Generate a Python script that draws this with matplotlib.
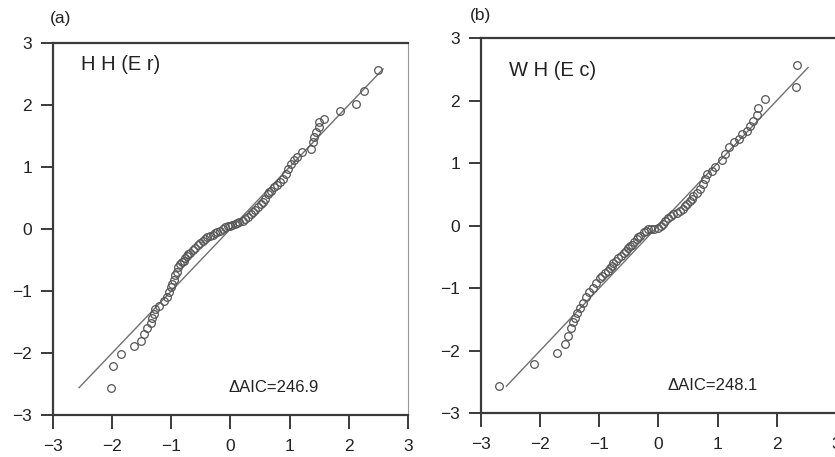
import matplotlib
matplotlib.use('Agg')
import matplotlib.pyplot as plt

plt.rcParams['font.family'] = ['Liberation Sans', 'DejaVu Sans']

# panel (a): theoretical vs sample quantiles
qa_x = [2.50, 2.25, 2.12, 1.86, 1.58, 1.50, 1.49, 1.44, 1.41, 1.39, 1.37,
        1.21, 1.13, 1.08, 1.02, 0.98, 0.94, 0.88, 0.83, 0.78, 0.74, 0.69,
        0.66, 0.63, 0.58, 0.55, 0.52, 0.46, 0.42, 0.38, 0.34, 0.30, 0.25,
        0.21, 0.15, 0.11, 0.07, 0.03, -0.01, -0.05, -0.09, -0.13, -0.18,
        -0.22, -0.26, -0.30, -0.35, -0.39, -0.43, -0.47, -0.51, -0.55,
        -0.60, -0.64, -0.68, -0.71, -0.74, -0.77, -0.79, -0.82, -0.85,
        -0.88, -0.91, -0.93, -0.96, -0.99, -1.01, -1.04, -1.07, -1.13,
        -1.21, -1.27, -1.30, -1.32, -1.35, -1.41, -1.46, -1.52, -1.63,
        -1.85, -1.99, -2.02]
qa_y = [2.57, 2.22, 2.02, 1.90, 1.78, 1.72, 1.65, 1.56, 1.48, 1.40, 1.29,
        1.24, 1.16, 1.11, 1.05, 0.97, 0.89, 0.81, 0.75, 0.71, 0.67, 0.62,
        0.60, 0.57, 0.48, 0.44, 0.40, 0.35, 0.31, 0.27, 0.24, 0.20, 0.16,
        0.13, 0.11, 0.09, 0.08, 0.06, 0.05, 0.04, 0.03, 0.00, -0.03,
        -0.05, -0.07, -0.09, -0.11, -0.13, -0.16, -0.19, -0.22, -0.26,
        -0.30, -0.34, -0.38, -0.40, -0.43, -0.47, -0.51, -0.54, -0.57,
        -0.62, -0.70, -0.75, -0.83, -0.88, -0.93, -1.02, -1.10, -1.16,
        -1.24, -1.29, -1.37, -1.43, -1.51, -1.59, -1.70, -1.80, -1.88,
        -2.02, -2.21, -2.56]

# panel (b)
qb_x = [2.34, 2.33, 1.81, 1.68, 1.66, 1.60, 1.55, 1.50, 1.41, 1.36, 1.27,
        1.20, 1.13, 1.07, 0.96, 0.90, 0.82, 0.79, 0.76, 0.71, 0.65, 0.59,
        0.56, 0.53, 0.49, 0.45, 0.41, 0.37, 0.31, 0.25, 0.21, 0.17, 0.12,
        0.08, 0.04, 0.00, -0.08, -0.13, -0.17, -0.21, -0.25, -0.31, -0.34,
        -0.37, -0.41, -0.45, -0.48, -0.51, -0.55, -0.59, -0.63, -0.68,
        -0.72, -0.76, -0.79, -0.82, -0.86, -0.90, -0.95, -0.99, -1.05,
        -1.11, -1.17, -1.23, -1.27, -1.33, -1.38, -1.41, -1.45, -1.47,
        -1.53, -1.58, -1.72, -2.11, -2.69]
qb_y = [2.57, 2.21, 2.02, 1.88, 1.77, 1.68, 1.59, 1.52, 1.46, 1.39, 1.33,
        1.25, 1.14, 1.05, 0.93, 0.87, 0.82, 0.74, 0.66, 0.58, 0.52, 0.47,
        0.43, 0.39, 0.35, 0.31, 0.27, 0.23, 0.20, 0.18, 0.15, 0.12, 0.07,
        0.02, -0.01, -0.04, -0.05, -0.05, -0.06, -0.08, -0.11, -0.17,
        -0.19, -0.22, -0.27, -0.31, -0.33, -0.36, -0.40, -0.44, -0.48,
        -0.52, -0.56, -0.60, -0.64, -0.68, -0.72, -0.76, -0.80, -0.84,
        -0.92, -1.00, -1.07, -1.15, -1.24, -1.32, -1.40, -1.48, -1.54,
        -1.64, -1.77, -1.89, -2.03, -2.22, -2.57]

panels = [
    dict(label='(a)', name='H H (E r)', aic='\u0394AIC=246.9',
         x=qa_x, y=qa_y, line=(-2.56, 2.58), name_y=2.65, aic_x=-0.03,
         rect=[0.0635, 0.092, 0.425, 0.814], lab_xy=(0.060, 0.96)),
    dict(label='(b)', name='W H (E c)', aic='\u0394AIC=248.1',
         x=qb_x, y=qb_y, line=(-2.57, 2.53), name_y=2.48, aic_x=0.15,
         rect=[0.576, 0.096, 0.425, 0.8206], lab_xy=(0.563, 0.967)),
]

fig = plt.figure(figsize=(8.35, 4.57), dpi=100)

for p in panels:
    ax = fig.add_axes(p['rect'])
    lo, hi = p['line']
    ax.plot([lo, hi], [lo, hi], color='#707070', lw=1.0, zorder=2)
    ax.plot(p['x'], p['y'], 'o', mfc='none', mec='#555555', mew=0.9,
            ms=5.5, zorder=3)
    ax.text(-2.53, p['name_y'], p['name'], fontsize=14.5, color='#222222',
            va='center', ha='left')
    ax.text(p['aic_x'], -2.56, p['aic'], fontsize=12, color='#222222',
            va='center', ha='left')
    ax.set_xlim(-3, 3)
    ax.set_ylim(-3, 3)
    ax.set_xticks(range(-3, 4))
    ax.set_yticks(range(-3, 4))
    for s in ['left', 'bottom', 'top']:
        ax.spines[s].set_color('#3a3a3a')
        ax.spines[s].set_linewidth(1.6)
    ax.spines['right'].set_color('#999999')
    ax.spines['right'].set_linewidth(0.8)
    ax.tick_params(direction='out', width=1.4, color='#3a3a3a',
                   labelsize=12.5, labelcolor='#222222')
    ax.tick_params(axis='y', length=9, pad=6)
    ax.tick_params(axis='x', length=10, pad=7)
    fig.text(p['lab_xy'][0], p['lab_xy'][1], p['label'], fontsize=12.5,
             color='#222222', va='center', ha='left')

fig.savefig('out.png', dpi=100)
